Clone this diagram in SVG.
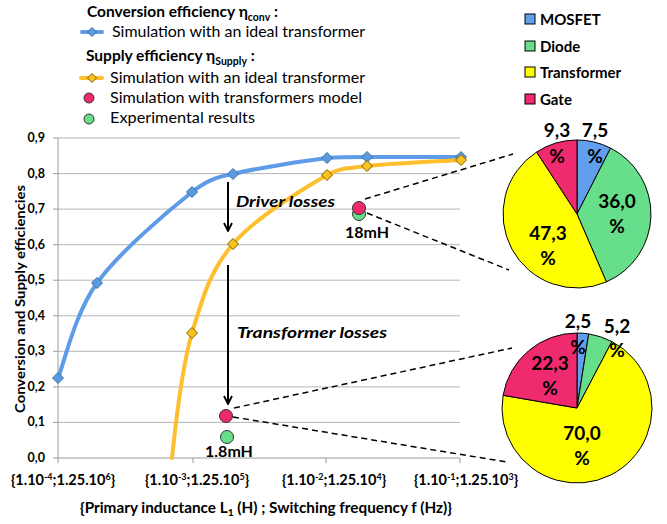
<svg xmlns="http://www.w3.org/2000/svg" xmlns:xlink="http://www.w3.org/1999/xlink" width="667" height="524" viewBox="0 0 667 524">
<style>
text{font-family:Lato,"Liberation Sans",sans-serif;fill:#000}
.b{font-weight:bold}
.lg{font-size:15px}
.hd{font-size:15.5px;font-weight:bold}
.yt{font-size:12.5px;font-weight:bold;text-anchor:end}
.xt{font-size:14.5px;font-weight:bold;text-anchor:middle}
.pl{font-size:19px;font-weight:bold;text-anchor:middle}
.grid{stroke:#b5b5b5;stroke-width:1}
.axis{stroke:#9a9a9a;stroke-width:1}
.blue{stroke:#5f9ce8;stroke-width:4;fill:none;stroke-linecap:round}
.orange{stroke:#fdbf2d;stroke-width:4;fill:none;stroke-linecap:round}
.bd{fill:#5a9be0;stroke:#3d6fa8;stroke-width:1}
.od{fill:#f8c41c;stroke:#7d5e00;stroke-width:1}
.red{fill:#ee2a6b;stroke:#333;stroke-width:1}
.grn{fill:#66dd88;stroke:#333;stroke-width:1}
.dash{stroke:#000;stroke-width:1.5;stroke-dasharray:6 4;fill:none}
.arr{stroke:#000;stroke-width:2;fill:none;marker-end:url(#ah)}
.s{stroke:#000;stroke-width:1}
.cM{fill:#619fee}.cD{fill:#66de8a}.cT{fill:#ffff00}.cG{fill:#f02a6f}
</style>
<defs>
<path id="dia" d="M0,-5.5 L5.5,0 L0,5.5 L-5.5,0Z"/>
<path id="dias" d="M0,-4.5 L4.5,0 L0,4.5 L-4.5,0Z"/>
<marker id="ah" viewBox="0 0 10 10" refX="9" refY="5" markerWidth="10" markerHeight="10" markerUnits="userSpaceOnUse" orient="auto">
<path d="M1,1 L9,5 L1,9" fill="none" stroke="#000" stroke-width="1.8"/>
</marker>
</defs>

<g id="axes">
<g class="grid">
<line x1="58" y1="138" x2="460" y2="138"/>
<line x1="58" y1="173.6" x2="460" y2="173.6"/>
<line x1="58" y1="209.1" x2="460" y2="209.1"/>
<line x1="58" y1="244.7" x2="460" y2="244.7"/>
<line x1="58" y1="280.2" x2="460" y2="280.2"/>
<line x1="58" y1="315.8" x2="460" y2="315.8"/>
<line x1="58" y1="351.3" x2="460" y2="351.3"/>
<line x1="58" y1="386.9" x2="460" y2="386.9"/>
<line x1="58" y1="422.4" x2="460" y2="422.4"/>
</g>
<g class="axis">
<line x1="58" y1="138" x2="58" y2="458"/>
<line x1="53" y1="458" x2="460" y2="458"/>
<line x1="53" y1="138" x2="58" y2="138"/>
<line x1="53" y1="173.6" x2="58" y2="173.6"/>
<line x1="53" y1="209.1" x2="58" y2="209.1"/>
<line x1="53" y1="244.7" x2="58" y2="244.7"/>
<line x1="53" y1="280.2" x2="58" y2="280.2"/>
<line x1="53" y1="315.8" x2="58" y2="315.8"/>
<line x1="53" y1="351.3" x2="58" y2="351.3"/>
<line x1="53" y1="386.9" x2="58" y2="386.9"/>
<line x1="53" y1="422.4" x2="58" y2="422.4"/>
<line x1="58" y1="458" x2="58" y2="463"/>
<line x1="193" y1="458" x2="193" y2="463"/>
<line x1="326" y1="458" x2="326" y2="463"/>
<line x1="460" y1="458" x2="460" y2="463"/>
</g>
<text class="yt" x="45" y="462">0,0</text>
<text class="yt" x="45" y="426.4">0,1</text>
<text class="yt" x="45" y="390.9">0,2</text>
<text class="yt" x="45" y="355.3">0,3</text>
<text class="yt" x="45" y="319.8">0,4</text>
<text class="yt" x="45" y="284.2">0,5</text>
<text class="yt" x="45" y="248.7">0,6</text>
<text class="yt" x="45" y="213.1">0,7</text>
<text class="yt" x="45" y="177.6">0,8</text>
<text class="yt" x="45" y="142">0,9</text>
<text class="b" font-size="14" text-anchor="middle" transform="translate(25,299) rotate(-90)" textLength="228" lengthAdjust="spacingAndGlyphs">Conversion and Supply efficiencies</text>
<text class="xt" x="63" y="485">{1.10<tspan font-size="9" dy="-5">-4</tspan><tspan dy="5">;1.25.10</tspan><tspan font-size="9" dy="-5">6</tspan><tspan dy="5">}</tspan></text>
<text class="xt" x="197" y="485">{1.10<tspan font-size="9" dy="-5">-3</tspan><tspan dy="5">;1.25.10</tspan><tspan font-size="9" dy="-5">5</tspan><tspan dy="5">}</tspan></text>
<text class="xt" x="334" y="485">{1.10<tspan font-size="9" dy="-5">-2</tspan><tspan dy="5">;1.25.10</tspan><tspan font-size="9" dy="-5">4</tspan><tspan dy="5">}</tspan></text>
<text class="xt" x="466" y="485">{1.10<tspan font-size="9" dy="-5">-1</tspan><tspan dy="5">;1.25.10</tspan><tspan font-size="9" dy="-5">3</tspan><tspan dy="5">}</tspan></text>
<text class="b" font-size="15" x="266" y="513" text-anchor="middle" textLength="372" lengthAdjust="spacingAndGlyphs">{Primary inductance L<tspan font-size="10" dy="3">1</tspan><tspan dy="-3"> (H) ; Switching frequency f (Hz)}</tspan></text>
</g>

<g id="connectors">
<path class="blue" d="M58,378 C64.5,362 74.7,314 97,283 C119.3,252 169.3,210 192,192 C205,182 215,177 233,174 C255.5,168.3 304.7,160.8 327,158 C340,157 354,157 367,157 C389,157 445,157 461,157"/>
<path class="orange" d="M172,458 C174,440 180.7,370.7 192,333 C203.3,295.3 210.5,270.3 233,244 C255.5,217.7 304.7,188 327,175 C340,168 344.7,168.5 367,166 C389.3,163.5 445.3,161 461,160"/>
<line class="dash" x1="365" y1="199" x2="513" y2="154"/>
<line class="dash" x1="367" y1="213" x2="509" y2="270"/>
<line class="dash" x1="234" y1="408" x2="512" y2="348"/>
<line class="dash" x1="233" y1="417" x2="507" y2="462"/>
<line class="arr" x1="228" y1="182" x2="228" y2="231"/>
<line class="arr" x1="228" y1="265" x2="228" y2="404"/>
</g>

<g id="blue-points">
<use xlink:href="#dia" href="#dia" class="bd" x="58" y="378"/>
<use xlink:href="#dia" href="#dia" class="bd" x="97" y="283"/>
<use xlink:href="#dia" href="#dia" class="bd" x="192" y="192"/>
<use xlink:href="#dia" href="#dia" class="bd" x="233" y="174"/>
<use xlink:href="#dia" href="#dia" class="bd" x="327" y="158"/>
<use xlink:href="#dia" href="#dia" class="bd" x="367" y="157"/>
<use xlink:href="#dia" href="#dia" class="bd" x="461" y="157"/>
</g>
<g id="orange-points">
<use xlink:href="#dia" href="#dia" class="od" x="192" y="333"/>
<use xlink:href="#dia" href="#dia" class="od" x="233" y="244"/>
<use xlink:href="#dia" href="#dia" class="od" x="327" y="175"/>
<use xlink:href="#dia" href="#dia" class="od" x="367" y="166"/>
<use xlink:href="#dia" href="#dia" class="od" x="461" y="160"/>
</g>
<g id="point-18mH">
<circle class="grn" cx="359" cy="214" r="6.5"/>
<circle class="red" cx="359" cy="208" r="6.5"/>
<text class="b" font-size="16" x="367" y="238" text-anchor="middle">18mH</text>
</g>
<g id="point-1.8mH">
<circle class="red" cx="226" cy="416" r="6.5"/>
<circle class="grn" cx="227" cy="437" r="6.5"/>
<text class="b" font-size="16" x="229" y="457" text-anchor="middle">1.8mH</text>
</g>
<g id="label-driver">
<text class="b" font-size="16" font-style="italic" x="236" y="207" textLength="99" lengthAdjust="spacingAndGlyphs">Driver losses</text>
</g>
<g id="label-transformer">
<text class="b" font-size="16" font-style="italic" x="237" y="338" textLength="150" lengthAdjust="spacingAndGlyphs">Transformer losses</text>
</g>

<g id="legend-efficiency">
<text class="hd" x="87" y="17">Conversion efficiency η<tspan font-size="10.5" dy="4">conv</tspan><tspan dy="-4"> :</tspan></text>
<line class="blue" x1="82" y1="32" x2="102" y2="32"/>
<use xlink:href="#dias" href="#dias" class="bd" x="92" y="32"/>
<text class="lg" x="112" y="37" textLength="253" lengthAdjust="spacingAndGlyphs">Simulation with an ideal transformer</text>
<text class="hd" x="86" y="61">Supply efficiency η<tspan font-size="10.5" dy="4">Supply</tspan><tspan dy="-4"> :</tspan></text>
<line class="orange" x1="81" y1="78" x2="102" y2="78"/>
<use xlink:href="#dias" href="#dias" class="od" x="92" y="78"/>
<text class="lg" x="110" y="83" textLength="255" lengthAdjust="spacingAndGlyphs">Simulation with an ideal transformer</text>
<circle class="red" cx="89" cy="98" r="5"/>
<text class="lg" x="110" y="103" textLength="252" lengthAdjust="spacingAndGlyphs">Simulation with transformers model</text>
<circle class="grn" cx="89" cy="119" r="5"/>
<text class="lg" x="110" y="123" textLength="145" lengthAdjust="spacingAndGlyphs">Experimental results</text>
</g>

<g id="legend-losses">
<rect class="cM s" x="525" y="14" width="10" height="10"/>
<text class="b lg" x="540" y="25">MOSFET</text>
<rect class="cD s" x="525" y="41" width="10" height="10"/>
<text class="b lg" x="540" y="52">Diode</text>
<rect class="cT s" x="525" y="67" width="10" height="10"/>
<text class="b lg" x="540" y="78">Transformer</text>
<rect class="cG s" x="525" y="94" width="10" height="10"/>
<text class="b lg" x="540" y="105">Gate</text>
</g>

<g id="pie-18mH">
<path class="cM s" d="M577,214 L577,140 A74,74 0 0 1 610.6,148.1 Z"/>
<path class="cD s" d="M577,214 L610.6,148.1 A74,74 0 0 1 606.4,281.9 Z"/>
<path class="cT s" d="M577,214 L606.4,281.9 A74,74 0 0 1 536.6,152 Z"/>
<path class="cG s" d="M577,214 L536.6,152 A74,74 0 0 1 577,140 Z"/>
<text class="pl" x="557" y="137">9,3</text>
<text class="pl" x="557" y="163">%</text>
<text class="pl" x="595" y="137">7,5</text>
<text class="pl" x="595" y="163">%</text>
<text class="pl" x="617" y="208">36,0</text>
<text class="pl" x="617" y="233">%</text>
<text class="pl" x="548" y="240">47,3</text>
<text class="pl" x="548" y="265">%</text>
</g>

<g id="pie-1.8mH">
<path class="cM s" d="M577,408 L577,333 A75,75 0 0 1 588.7,333.9 Z"/>
<path class="cD s" d="M577,408 L588.7,333.9 A75,75 0 0 1 611.9,341.6 Z"/>
<path class="cT s" d="M577,408 L611.9,341.6 A75,75 0 1 1 503.1,395.3 Z"/>
<path class="cG s" d="M577,408 L503.1,395.3 A75,75 0 0 1 577,333 Z"/>
<text class="pl" x="578" y="328">2,5</text>
<text class="pl" x="578" y="354">%</text>
<text class="pl" x="617" y="333">5,2</text>
<text class="pl" x="617" y="357">%</text>
<text class="pl" x="550" y="370">22,3</text>
<text class="pl" x="550" y="395">%</text>
<text class="pl" x="582" y="440">70,0</text>
<text class="pl" x="582" y="465">%</text>
</g>
</svg>
